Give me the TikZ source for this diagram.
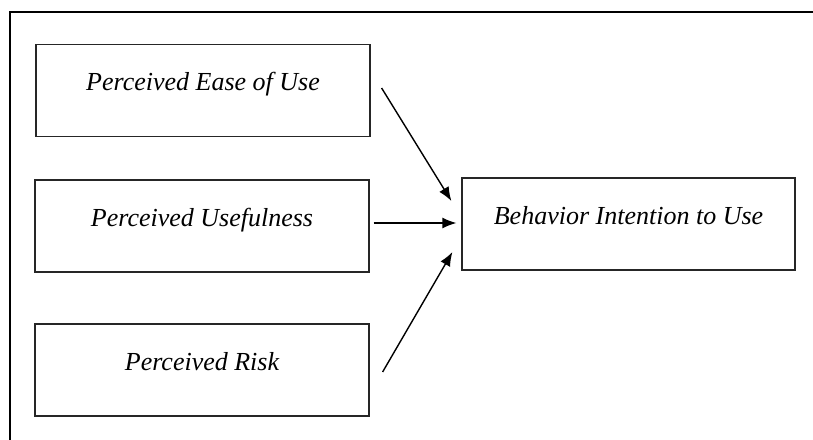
\documentclass[tikz,border=0pt]{standalone}
\usepackage{fontspec}
\setmainfont{Liberation Serif}
\usetikzlibrary{arrows.meta}
\begin{document}
\begin{tikzpicture}[x=1pt,y=-1pt,
  box/.style={draw=black!85,line width=1.2pt,minimum width=334pt,minimum height=92pt,inner sep=0pt,
    text height=11pt,text depth=11pt,font=\fontsize{26}{30}\selectfont\itshape},
  arr/.style={line width=1.4pt,-{Latex[length=14pt,width=11pt]}}]
\useasboundingbox (0,0) rectangle (813,439);
\clip (0,0) rectangle (813,439);
\draw[line width=1.5pt] (10,12) rectangle (840,470);
\node[box] (b1) at (203,90.5) {Perceived Ease of Use};
\node[box] (b2) at (202,226) {Perceived Usefulness};
\node[box] (b3) at (202,370) {Perceived Risk};
\node[box,minimum width=333pt] (t) at (628.5,224) {Behavior Intention to Use};
\coordinate (s1) at ([shift={(11,-2.5)}]b1.east);
\coordinate (e1) at ([shift={(-10,-23)}]t.west);
\coordinate (s2) at ([shift={(4,-3)}]b2.east);
\coordinate (e2) at ([shift={(-5,-1)}]t.west);
\coordinate (s3) at ([shift={(13,2)}]b3.east);
\coordinate (e3) at ([shift={(-9,28)}]t.west);
\draw[arr] (s1) -- (e1);
\draw[arr] (s2) -- (e2);
\draw[arr] (s3) -- (e3);
\end{tikzpicture}
\end{document}
